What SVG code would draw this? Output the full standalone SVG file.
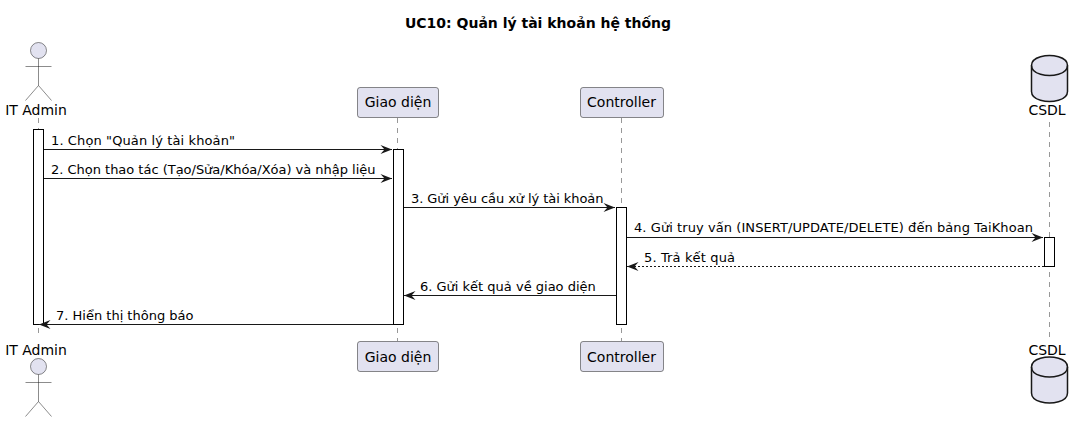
<svg xmlns="http://www.w3.org/2000/svg" width="1083" height="422" viewBox="0 0 1083 422">
<style>
text{font-family:"DejaVu Sans",sans-serif;fill:#000}
.t{font-size:14px;font-weight:700;text-anchor:middle}
.p{font-size:14px;text-anchor:middle}
.m{font-size:13px}
.life{stroke:#181818;stroke-opacity:.75;stroke-width:.6;stroke-dasharray:5 5;fill:none}
.box{fill:#E2E2F0;stroke:#181818;stroke-width:.5}
.act{fill:#fff;stroke:#000;stroke-width:1}
.ln{stroke:#181818;stroke-width:1;fill:none}
.a{fill:#E2E2F0;stroke:#181818;stroke-width:.5}
.al{fill:none;stroke:#181818;stroke-width:.5}
.db{fill:#E2E2F0;stroke:#181818;stroke-width:1.5}
.dbl{fill:none;stroke:#181818;stroke-width:1.5}
</style>
<defs>
<marker id="ar" markerUnits="userSpaceOnUse" markerWidth="13" markerHeight="12" refX="12" refY="6" orient="auto"><path d="M0.500 1.500L12 6L0.500 10.500L4.500 6Z" fill="#181818"/></marker>
<g id="actor"><circle class="a" cx="0" cy="8" r="8"/><path class="al" d="M0 16V43M-13 24H13M0 43L-13 58M0 43L13 58"/></g>
<g id="can"><path class="db" d="M-18 10C-18 0 0 0 0 0C0 0 18 0 18 10V36C18 46 0 46 0 46C0 46 -18 46 -18 36Z"/><path class="dbl" d="M-18 10C-18 20 0 20 0 20C0 20 18 20 18 10"/></g>
</defs>
<text class="t" x="538" y="28">UC10: Quản lý tài khoản hệ thống</text>
<g id="lifelines">
<path class="life" d="M38.5 118V336M397.500 118V341M621.500 118V341M1049.500 122V341"/>
</g>
<g id="activations">
<rect class="act" x="33.500" y="129.500" width="10" height="195"/>
<rect class="act" x="393.500" y="149.500" width="10" height="175"/>
<rect class="act" x="616.500" y="207.500" width="10" height="117"/>
<rect class="act" x="1044.500" y="237.500" width="10" height="29"/>
</g>
<g id="connectors">
<path class="ln" marker-end="url(#ar)" d="M44 149.500H392"/>
<path class="ln" marker-end="url(#ar)" d="M44 178.500H392"/>
<path class="ln" marker-end="url(#ar)" d="M404 207.500H615"/>
<path class="ln" marker-end="url(#ar)" d="M627 237.500H1043"/>
<path class="ln" marker-end="url(#ar)" stroke-dasharray="2 2" d="M1044 266.500H627"/>
<path class="ln" marker-end="url(#ar)" d="M616 295.500H404"/>
<path class="ln" marker-end="url(#ar)" d="M393 324.500H39"/>
</g>
<g id="labels">
<text class="m" x="51" y="145" textLength="184">1. Chọn "Quản lý tài khoản"</text>
<text class="m" x="51" y="174" textLength="324.500">2. Chọn thao tác (Tạo/Sửa/Khóa/Xóa) và nhập liệu</text>
<text class="m" x="411" y="203" textLength="192.500">3. Gửi yêu cầu xử lý tài khoản</text>
<text class="m" x="634" y="232" textLength="399">4. Gửi truy vấn (INSERT/UPDATE/DELETE) đến bảng TaiKhoan</text>
<text class="m" x="644" y="261.500" textLength="91">5. Trả kết quả</text>
<text class="m" x="420" y="291">6. Gửi kết quả về giao diện</text>
<text class="m" x="56" y="320">7. Hiển thị thông báo</text>
</g>
<g id="node-admin-top"><use href="#actor" x="38.500" y="42.500"/><text class="p" x="36" y="115">IT Admin</text></g>
<g id="node-admin-bottom"><text class="p" x="36" y="355">IT Admin</text><use href="#actor" x="38.500" y="358.500"/></g>
<g id="node-giaodien-top"><rect class="box" x="357.500" y="87.500" width="81" height="30" rx="2.500"/><text class="p" x="398" y="107">Giao diện</text></g>
<g id="node-giaodien-bottom"><rect class="box" x="357.500" y="341.500" width="81" height="30" rx="2.500"/><text class="p" x="398" y="362">Giao diện</text></g>
<g id="node-controller-top"><rect class="box" x="580.500" y="87.500" width="83" height="30" rx="2.500"/><text class="p" x="621.500" y="107">Controller</text></g>
<g id="node-controller-bottom"><rect class="box" x="580.500" y="341.500" width="83" height="30" rx="2.500"/><text class="p" x="621.500" y="362">Controller</text></g>
<g id="node-csdl-top"><use href="#can" x="1049.500" y="55.500"/><text class="p" x="1047" y="115">CSDL</text></g>
<g id="node-csdl-bottom"><text class="p" x="1047" y="355">CSDL</text><use href="#can" x="1049.500" y="357"/></g>
</svg>
